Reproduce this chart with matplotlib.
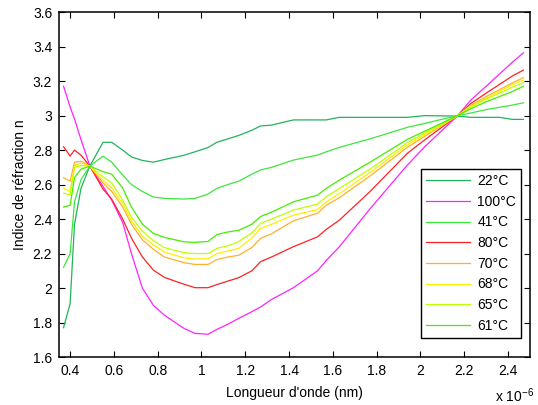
import matplotlib
matplotlib.use("Agg")
import matplotlib.pyplot as plt
from matplotlib.ticker import FuncFormatter, MultipleLocator
import numpy as np

plt.rcParams['font.family'] = ['Liberation Sans', 'DejaVu Sans']
plt.rcParams['mathtext.fontset'] = 'custom'
plt.rcParams['mathtext.rm'] = 'Liberation Sans'

# longueur d'onde en micrometres (axe en metres, x 10^-6)
wl = [0.37, 0.40, 0.42, 0.45, 0.49, 0.55, 0.59, 0.64, 0.68, 0.73, 0.78, 0.83,
      0.92, 0.97, 1.03, 1.07, 1.12, 1.17, 1.23, 1.27, 1.32, 1.42, 1.53, 1.57,
      1.63, 1.77, 1.94, 2.02, 2.17, 2.23, 2.30, 2.36, 2.42, 2.47]

n_22 = [1.77, 1.91, 2.37, 2.58, 2.707, 2.845, 2.845, 2.80, 2.76, 2.74, 2.73, 2.745,
        2.77, 2.79, 2.815, 2.845, 2.865, 2.885, 2.915, 2.94, 2.945, 2.975, 2.975, 2.975,
        2.99, 2.99, 2.99, 3.0, 2.997, 2.99, 2.99, 2.99, 2.978, 2.978]
n_100 = [3.17, 3.05, 2.98, 2.86, 2.707, 2.59, 2.51, 2.38, 2.20, 2.0, 1.90, 1.843,
         1.766, 1.737, 1.732, 1.76, 1.79, 1.824, 1.863, 1.89, 1.934, 2.002, 2.10, 2.16,
         2.24, 2.46, 2.713, 2.82, 3.0, 3.09, 3.17, 3.24, 3.31, 3.364]
n_41 = [2.12, 2.2, 2.5, 2.63, 2.707, 2.765, 2.73, 2.655, 2.60, 2.56, 2.528, 2.52,
        2.516, 2.52, 2.545, 2.578, 2.60, 2.62, 2.66, 2.685, 2.70, 2.742, 2.771, 2.79,
        2.816, 2.865, 2.932, 2.955, 3.0, 3.015, 3.035, 3.048, 3.061, 3.074]
n_80 = [2.82, 2.765, 2.80, 2.77, 2.707, 2.574, 2.515, 2.40, 2.29, 2.18, 2.104, 2.062,
        2.022, 2.002, 2.002, 2.02, 2.04, 2.06, 2.10, 2.153, 2.18, 2.24, 2.297, 2.34,
        2.394, 2.56, 2.781, 2.86, 3.0, 3.07, 3.13, 3.18, 3.23, 3.264]
n_70 = [2.64, 2.62, 2.73, 2.735, 2.707, 2.61, 2.56, 2.47, 2.37, 2.28, 2.225, 2.18,
        2.147, 2.137, 2.137, 2.165, 2.18, 2.19, 2.235, 2.288, 2.315, 2.39, 2.434, 2.48,
        2.524, 2.65, 2.816, 2.88, 3.0, 3.06, 3.11, 3.15, 3.19, 3.22]
n_68 = [2.58, 2.56, 2.71, 2.725, 2.707, 2.625, 2.58, 2.49, 2.39, 2.30, 2.25, 2.21,
        2.175, 2.168, 2.17, 2.20, 2.215, 2.23, 2.29, 2.345, 2.37, 2.423, 2.455, 2.50,
        2.548, 2.67, 2.829, 2.89, 3.0, 3.055, 3.10, 3.14, 3.18, 3.206]
n_65 = [2.55, 2.54, 2.70, 2.71, 2.707, 2.645, 2.61, 2.51, 2.41, 2.33, 2.275, 2.235,
        2.205, 2.2, 2.2, 2.23, 2.245, 2.27, 2.32, 2.375, 2.40, 2.452, 2.487, 2.53,
        2.578, 2.69, 2.842, 2.90, 3.0, 3.05, 3.095, 3.13, 3.165, 3.19]
n_61 = [2.47, 2.48, 2.64, 2.69, 2.707, 2.675, 2.66, 2.58, 2.47, 2.37, 2.317, 2.294,
        2.268, 2.265, 2.27, 2.31, 2.325, 2.335, 2.37, 2.415, 2.44, 2.50, 2.539, 2.578,
        2.626, 2.73, 2.862, 2.91, 3.0, 3.04, 3.08, 3.11, 3.14, 3.17]

labels = ['22°C', '100°C', '41°C', '80°C', '70°C', '68°C', '65°C', '61°C']
series = [n_22, n_100, n_41, n_80, n_70, n_68, n_65, n_61]
colors = ['#22b35c', '#ff22ff', '#3ee63e', '#ff2222', '#ffb030', '#ffee00',
          '#c0ff00', '#44ee00']

fig = plt.figure(figsize=(5.38, 4.05), dpi=100)
ax = fig.add_axes([0.110, 0.1185, 0.875, 0.8515])

x = np.array(wl) * 1e-6
for lab, n, c in zip(labels, series, colors):
    ax.plot(x, n, color=c, lw=0.9, label=lab)

ax.set_xlim(0.35e-6, 2.5e-6)
ax.set_ylim(1.6, 3.6)
ax.xaxis.set_major_locator(MultipleLocator(0.2e-6))
ax.yaxis.set_major_locator(MultipleLocator(0.2))
ax.xaxis.set_major_formatter(FuncFormatter(lambda v, p: '%g' % round(v * 1e6, 2)))
ax.yaxis.set_major_formatter(FuncFormatter(lambda v, p: '%g' % round(v, 2)))
ax.tick_params(direction='in', length=4.5, width=0.8, top=True, right=True,
               labelsize=10, pad=5)
for s in ax.spines.values():
    s.set_linewidth(1.1)

ax.set_xlabel("Longueur d'onde (nm)", fontsize=10, labelpad=6)
ax.set_ylabel("Indice de réfraction n", fontsize=10, labelpad=4)
fig.text(0.993, 0.0, 'x 10$^{-6}$', ha='right', va='bottom', fontsize=10)

leg = ax.legend(loc='lower right', bbox_to_anchor=(0.982, 0.055), fontsize=10,
                handlelength=3.2, handletextpad=0.5, labelspacing=0.48,
                borderpad=0.38, borderaxespad=0, fancybox=False, framealpha=1,
                edgecolor='black')
leg.get_frame().set_linewidth(1.0)

fig.savefig('out.png', dpi=100)
